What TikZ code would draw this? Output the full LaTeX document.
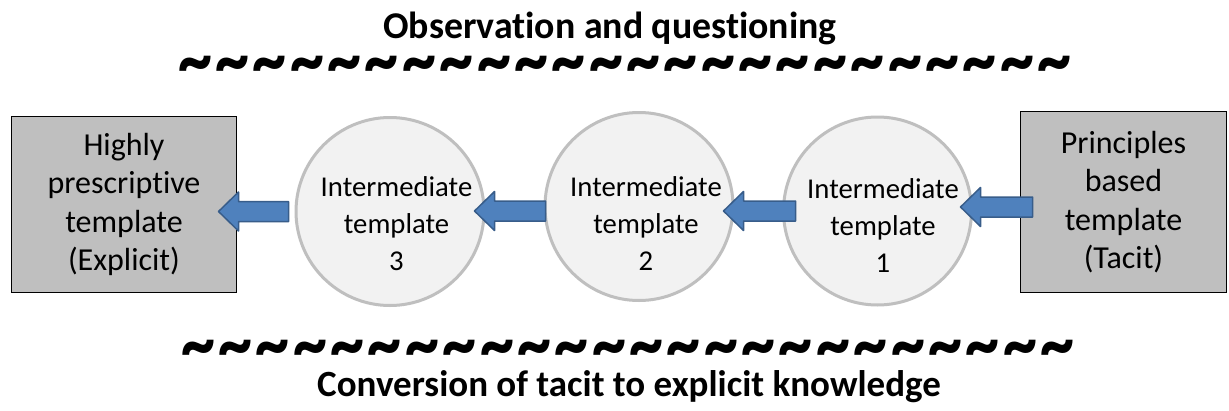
\documentclass[tikz,border=0pt]{standalone}
\usepackage{fontspec}
\setmainfont{Carlito}[Ligatures=NoCommon]
\usetikzlibrary{calc}
\definecolor{boxgray}{HTML}{BFBFBF}
\definecolor{circfill}{HTML}{F2F2F2}
\definecolor{circline}{HTML}{BFBFBF}
\definecolor{arrowfill}{HTML}{4F81BD}
\definecolor{arrowline}{HTML}{385D8A}
% one bold tilde followed by its gap
\newcommand\wv{\textasciitilde\hspace{3.5pt}}
\newcommand\wvsix{\wv\wv\wv\wv\wv\wv}
% a row of 24 bold tildes
\newcommand\waverow{\scalebox{1}[1.2]{\fontsize{68}{70}\selectfont\bfseries\wvsix\wvsix\wvsix\wv\wv\wv\wv\wv\textasciitilde}}
% left-pointing block arrow: #1 = tail point (sets the axis), #2 = tip point
\newcommand\blockarrow[2]{%
  \draw[barrow] let \p1=#1, \p2=#2 in
    (\x2,\y1) -- (\x2+20pt,\y1+19.5pt) -- (\x2+20pt,\y1+10pt) -- (\x1,\y1+10pt)
    -- (\x1,\y1-10pt) -- (\x2+20pt,\y1-10pt) -- (\x2+20pt,\y1-19.5pt) -- cycle;}
\begin{document}
\begin{tikzpicture}[x=1pt,y=-1pt,
  box/.style={draw=black, line width=1pt, fill=boxgray, align=center, inner sep=0pt,
    font=\fontsize{32}{38.5}\selectfont},
  circ/.style={circle, draw=circline, line width=3pt, fill=circfill, minimum size=188pt, inner sep=0pt},
  ctext/.style={align=center, inner sep=0pt, font=\fontsize{28.7}{37}\selectfont},
  heading/.style={anchor=base, inner sep=0pt, font=\fontsize{37}{44}\selectfont\bfseries},
  waves/.style={inner sep=0pt, anchor=base west},
  barrow/.style={draw=arrowline, line width=1.5pt, fill=arrowfill, line join=round}]
\useasboundingbox[fill=white] (0,0) rectangle (1229,410);

% headings and wave rows
\node[heading, font=\fontsize{37.8}{44}\selectfont\bfseries] (top) at (610,38) {Observation and questioning};
\node[waves] (wtop) at (178,86.1) {\waverow};
\node[waves] (wbot) at (181,370.1) {\waverow};
\node[heading] (bottom) at (629,396) {Conversion of tacit to explicit knowledge};

% end boxes
\node[box, minimum width=225pt, minimum height=176pt] (left) at (124,204.5)
  {Highly\\prescriptive\\template\\(Explicit)};
\node[box, minimum width=206pt, minimum height=181pt] (right) at (1123.5,202)
  {Principles\\based\\template\\(Tacit)};

% intermediate stages
\node[circ] (c3) at (390,211.5) {};
\node[circ] (c2) at (639,206.5) {};
\node[circ] (c1) at (877.5,211) {};
\node[ctext] (t3) at (396.5,224) {Intermediate\\template\\3};
\node[ctext] (t2) at (646,224) {Intermediate\\template\\2};
\node[ctext] (t1) at (883,226) {Intermediate\\template\\1};

% flow from tacit to explicit
\blockarrow{([xshift=-6pt]c3.west)}{([xshift=-18.5pt]left.east)}
\blockarrow{([shift={(2,4.5)}]c2.west)}{([xshift=-11pt]c3.east)}
\blockarrow{([xshift=13.5pt]c1.west)}{([xshift=-11pt]c2.east)}
\blockarrow{([shift={(12.5,5)}]right.west)}{([xshift=-12.5pt]c1.east)}
\end{tikzpicture}
\end{document}
